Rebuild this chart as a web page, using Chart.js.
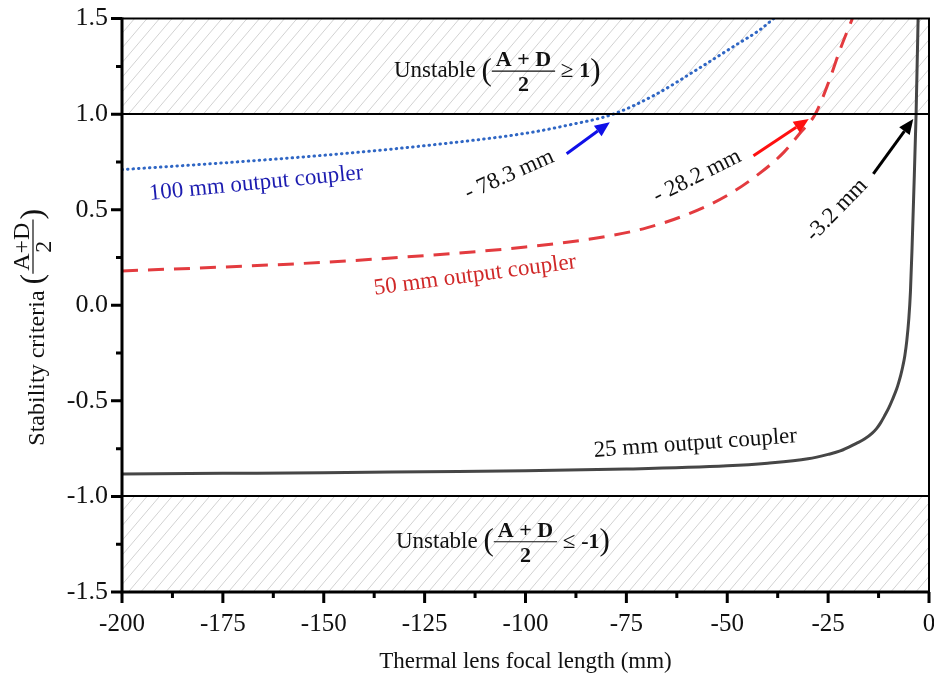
<!DOCTYPE html>
<html>
<head>
<meta charset="utf-8">
<script src="https://cdn.jsdelivr.net/npm/chart.js@4.4.1/dist/chart.umd.min.js"></script>
<style>
  html, body { margin: 0; padding: 0; background: #fff; }
  #wrap { width: 934px; height: 676px; }
</style>
</head>
<body>
<div id="wrap"><canvas id="chart" width="934" height="676"></canvas></div>
<script>
// focal length (mm) and (A+D)/2
const focal100 = [-200, -175, -150, -125, -100, -90, -78.3, -68, -57, -48, -42, -38.5]
const value100 = [0.71, 0.745, 0.785, 0.835, 0.9, 0.94, 1.0, 1.1, 1.24, 1.36, 1.44, 1.5]
const focal50 = [-200, -175, -150, -125, -100, -80, -70, -60, -50, -42, -36, -32, -28.2, -25, -22, -19]
const value50 = [0.18, 0.2, 0.225, 0.26, 0.305, 0.36, 0.405, 0.475, 0.575, 0.69, 0.8, 0.9, 1.0, 1.16, 1.34, 1.5]
const focal25 = [-200, -175, -150, -125, -100, -75, -50, -40, -30, -25, -22, -18, -16, -14, -13, -12, -11, -10, -9, -8, -7.5, -7, -6.5, -6, -5.5, -5, -4.6, -4.2, -3.8, -3.2, -2.7]
const value25 = [-0.882, -0.879, -0.876, -0.871, -0.866, -0.857, -0.84, -0.826, -0.803, -0.78, -0.762, -0.722, -0.7, -0.667, -0.645, -0.615, -0.578, -0.538, -0.49, -0.437, -0.403, -0.365, -0.32, -0.265, -0.185, -0.07, 0.07, 0.3, 0.57, 1.0, 1.5]

const xTicks = [-200, -175, -150, -125, -100, -75, -50, -25, 0]
const yTicks = [-1.5, -1.0, -0.5, 0.0, 0.5, 1.0, 1.5]

// curve labels: [text, x, y, angle(deg), colour]
const curveLabels = [
  ['100 mm output coupler', -166.6, 0.606, -5.6, '#1c1cb0'],
  ['50 mm output coupler', -112.3, 0.125, -7.5, '#d02828'],
  ['25 mm output coupler', -57.8, -0.755, -4.1, '#111111'],
  ['- 78.3 mm', -103.4, 0.653, -24, '#111111'],
  ['- 28.2 mm', -56.8, 0.646, -26.5, '#111111'],
  ['-3.2 mm', -21.8, 0.476, -46, '#111111']
]
// arrows: [tailX, tailY, headX, headY, colour]
const arrows = [
  [-89.8, 0.793, -79.1, 0.958, '#1010e8'],
  [-43.5, 0.783, -29.8, 0.975, '#ff1010'],
  [-13.8, 0.688, -3.9, 0.975, '#000000']
]

const SERIF = '"Liberation Serif", "Times New Roman", serif'
const FS = 23

function toPoints(xs, ys) {
  return xs.map((x, i) => ({ x, y: ys[i] }))
}

function drawArrow(ctx, x1, y1, x2, y2, color) {
  const ang = Math.atan2(y2 - y1, x2 - x1)
  const headLen = 15
  const headW = 6.5
  const bx = x2 - headLen * Math.cos(ang)
  const by = y2 - headLen * Math.sin(ang)
  ctx.save()
  ctx.strokeStyle = color
  ctx.fillStyle = color
  ctx.lineWidth = 3
  ctx.beginPath()
  ctx.moveTo(x1, y1)
  ctx.lineTo(bx, by)
  ctx.stroke()
  ctx.beginPath()
  ctx.moveTo(x2, y2)
  ctx.lineTo(bx + headW * Math.sin(ang), by - headW * Math.cos(ang))
  ctx.lineTo(bx - headW * Math.sin(ang), by + headW * Math.cos(ang))
  ctx.closePath()
  ctx.fill()
  ctx.restore()
}

// "Unstable ( A+D / 2  rel  val )" centred on cx, fraction bar at barY
function drawUnstable(ctx, cx, barY, rel, val) {
  const reg = `${FS}px ${SERIF}`
  const bold = `bold ${FS - 1}px ${SERIF}`
  const big = `31px ${SERIF}`
  ctx.font = reg
  const wLead = ctx.measureText('Unstable ').width
  const wRel = ctx.measureText(' ' + rel + ' ').width
  ctx.font = big
  const wPar = ctx.measureText('(').width
  ctx.font = bold
  const wFrac = ctx.measureText('A + D').width + 8
  const wVal = ctx.measureText(val).width
  const total = wLead + wPar * 2 + wFrac + wRel + wVal
  let x = cx - total / 2
  const base = barY + 6
  ctx.save()
  ctx.fillStyle = '#111'
  ctx.textBaseline = 'alphabetic'
  ctx.textAlign = 'left'
  ctx.font = reg
  ctx.fillText('Unstable ', x, base)
  x += wLead
  ctx.font = big
  ctx.fillText('(', x, barY + 8.5)
  x += wPar
  ctx.font = bold
  ctx.textAlign = 'center'
  ctx.fillText('A + D', x + wFrac / 2, barY - 5)
  ctx.fillText('2', x + wFrac / 2, barY + 20)
  ctx.strokeStyle = '#111'
  ctx.lineWidth = 1.2
  ctx.beginPath()
  ctx.moveTo(x, barY)
  ctx.lineTo(x + wFrac, barY)
  ctx.stroke()
  x += wFrac
  ctx.textAlign = 'left'
  ctx.font = reg
  ctx.fillText(' ' + rel + ' ', x, base)
  x += wRel
  ctx.font = bold
  ctx.fillText(val, x, base)
  x += wVal
  ctx.font = big
  ctx.fillText(')', x, barY + 8.5)
  ctx.restore()
}

function drawYTitle(ctx, area) {
  const reg = `24px ${SERIF}`
  const big = `32px ${SERIF}`
  ctx.save()
  ctx.textAlign = 'left'
  ctx.font = reg
  const wMain = ctx.measureText('Stability criteria ').width
  const wFrac = ctx.measureText('A+D').width + 6
  ctx.font = big
  const wPar = ctx.measureText('(').width
  const total = wMain + wFrac + wPar * 2
  const cy = (area.top + area.bottom) / 2 + 22
  ctx.translate(44, cy + total / 2)
  ctx.rotate(-Math.PI / 2)
  ctx.fillStyle = '#111'
  ctx.textBaseline = 'alphabetic'
  let x = 0
  ctx.font = reg
  ctx.fillText('Stability criteria ', x, 0)
  x += wMain
  ctx.font = big
  ctx.fillText('(', x, -2)
  x += wPar
  ctx.font = reg
  ctx.textAlign = 'center'
  ctx.fillText('A+D', x + wFrac / 2, -15)
  ctx.fillText('2', x + wFrac / 2, 7)
  ctx.strokeStyle = '#111'
  ctx.lineWidth = 1.2
  ctx.beginPath()
  ctx.moveTo(x, -11)
  ctx.lineTo(x + wFrac, -11)
  ctx.stroke()
  x += wFrac
  ctx.textAlign = 'left'
  ctx.font = big
  ctx.fillText(')', x, -2)
  ctx.restore()
}

function hatch(ctx, left, right, top, bottom) {
  ctx.save()
  ctx.beginPath()
  ctx.rect(left, top, right - left, bottom - top)
  ctx.clip()
  ctx.strokeStyle = '#d2d2d2'
  ctx.lineWidth = 1
  const h = bottom - top
  const k = 0.85
  ctx.beginPath()
  for (let x0 = left - h * k; x0 < right; x0 += 12.5) {
    ctx.moveTo(x0, bottom)
    ctx.lineTo(x0 + h * k, top)
  }
  ctx.stroke()
  ctx.restore()
}

const decorPlugin = {
  id: 'decor',
  beforeDatasetsDraw(chart) {
    const { ctx, chartArea: a, scales: { y } } = chart
    hatch(ctx, a.left, a.right, a.top, y.getPixelForValue(1))
    hatch(ctx, a.left, a.right, y.getPixelForValue(-1), a.bottom)
  },
  afterDatasetsDraw(chart) {
    const { ctx, chartArea: a, scales: { x, y } } = chart
    ctx.save()
    // stability limits
    ctx.strokeStyle = '#000'
    ctx.lineWidth = 2
    ctx.beginPath()
    ;[1, -1].forEach((v) => {
      const py = Math.round(y.getPixelForValue(v))
      ctx.moveTo(a.left, py)
      ctx.lineTo(a.right, py)
    })
    ctx.stroke()
    // frame
    ctx.lineWidth = 2
    ctx.beginPath()
    ctx.moveTo(a.left, a.top)
    ctx.lineTo(a.right, a.top)
    ctx.lineTo(a.right, a.bottom)
    ctx.stroke()
    ctx.lineWidth = 3
    ctx.beginPath()
    ctx.moveTo(a.left, a.top - 1)
    ctx.lineTo(a.left, a.bottom)
    ctx.lineTo(a.right + 1, a.bottom)
    ctx.stroke()
    // ticks, major and minor
    ctx.lineWidth = 3
    ctx.beginPath()
    xTicks.forEach((v, i) => {
      const px = x.getPixelForValue(v)
      ctx.moveTo(px, a.bottom)
      ctx.lineTo(px, a.bottom + 11)
      if (i < xTicks.length - 1) {
        const mx = x.getPixelForValue(v + 12.5)
        ctx.moveTo(mx, a.bottom)
        ctx.lineTo(mx, a.bottom + 6)
      }
    })
    yTicks.forEach((v, i) => {
      const py = y.getPixelForValue(v)
      ctx.moveTo(a.left, py)
      ctx.lineTo(a.left - 11, py)
      if (i < yTicks.length - 1) {
        const my = y.getPixelForValue(v + 0.25)
        ctx.moveTo(a.left, my)
        ctx.lineTo(a.left - 6, my)
      }
    })
    ctx.stroke()

    // annotation texts
    ctx.textAlign = 'center'
    ctx.textBaseline = 'alphabetic'
    ctx.font = `${FS}px ${SERIF}`
    curveLabels.forEach(([text, vx, vy, deg, color]) => {
      ctx.save()
      ctx.translate(x.getPixelForValue(vx), y.getPixelForValue(vy))
      ctx.rotate(deg * Math.PI / 180)
      ctx.fillStyle = color
      ctx.fillText(text, 0, 0)
      ctx.restore()
    })
    arrows.forEach(([x1, y1, x2, y2, color]) => {
      drawArrow(ctx, x.getPixelForValue(x1), y.getPixelForValue(y1), x.getPixelForValue(x2), y.getPixelForValue(y2), color)
    })

    drawUnstable(ctx, x.getPixelForValue(-107), y.getPixelForValue(1.225), '\u2265', '1')
    drawUnstable(ctx, x.getPixelForValue(-105.6), y.getPixelForValue(-1.237), '\u2264', '-1')

    // axis titles
    ctx.fillStyle = '#111'
    ctx.font = `${FS}px ${SERIF}`
    ctx.textAlign = 'center'
    ctx.fillText('Thermal lens focal length (mm)', (a.left + a.right) / 2, 668)
    drawYTitle(ctx, a)
    ctx.restore()
  }
}

new Chart(document.getElementById('chart'), {
  type: 'line',
  data: {
    datasets: [
      {
        label: '100 mm output coupler',
        data: toPoints(focal100, value100),
        borderColor: '#2f66c4',
        borderWidth: 3,
        borderDash: [0.5, 5],
        borderCapStyle: 'round',
        pointRadius: 0,
        cubicInterpolationMode: 'monotone'
      },
      {
        label: '50 mm output coupler',
        data: toPoints(focal50, value50),
        borderColor: '#e33b3f',
        borderWidth: 3,
        borderDash: [16, 10],
        pointRadius: 0,
        cubicInterpolationMode: 'monotone'
      },
      {
        label: '25 mm output coupler',
        data: toPoints(focal25, value25),
        borderColor: '#464646',
        borderWidth: 3,
        pointRadius: 0,
        cubicInterpolationMode: 'monotone'
      }
    ]
  },
  plugins: [decorPlugin],
  options: {
    responsive: false,
    animation: false,
    events: [],
    layout: { padding: { top: 18, right: 5, left: 0, bottom: 0 } },
    plugins: {
      legend: { display: false },
      tooltip: { enabled: false }
    },
    scales: {
      x: {
        type: 'linear',
        min: -200,
        max: 0,
        grid: { display: false, drawTicks: true, tickLength: 11 },
        border: { display: false },
        afterFit: (scale) => {
          scale.height = 84
          scale.paddingLeft = 0
          scale.paddingRight = 0
        },
        afterBuildTicks: (scale) => { scale.ticks = xTicks.map((v) => ({ value: v })) },
        ticks: {
          padding: 6,
          color: '#111',
          font: { family: SERIF, size: 25 },
          maxRotation: 0,
          callback: (v) => String(v)
        }
      },
      y: {
        type: 'linear',
        min: -1.5,
        max: 1.5,
        grid: { display: false, drawTicks: true, tickLength: 11 },
        border: { display: false },
        afterFit: (scale) => { scale.width = 122 },
        afterBuildTicks: (scale) => { scale.ticks = yTicks.map((v) => ({ value: v })) },
        ticks: {
          padding: 3,
          color: '#111',
          font: { family: SERIF, size: 26 },
          callback: (v) => Number(v).toFixed(1)
        }
      }
    }
  }
})
</script>
</body>
</html>
